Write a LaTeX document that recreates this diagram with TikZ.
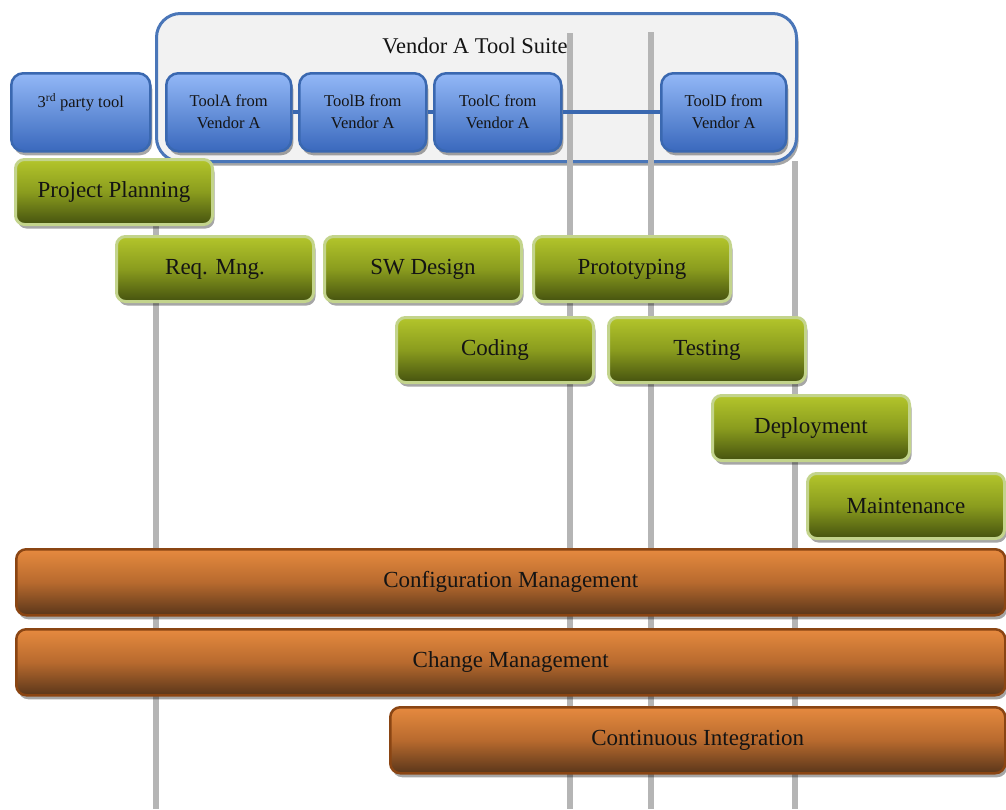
\documentclass[tikz,border=0pt]{standalone}
\usepackage{fontspec}
\setmainfont{Liberation Serif}
\usetikzlibrary{shadows}

\definecolor{suitefill}{HTML}{F2F2F2}
\definecolor{suiteline}{HTML}{4A76B8}
\definecolor{tooltop}{HTML}{93B8F7}
\definecolor{toolbot}{HTML}{3A69BD}
\definecolor{toolline}{HTML}{3A68B0}
\definecolor{greentop}{HTML}{B3C52B}
\definecolor{greenmid}{HTML}{8A9C1E}
\definecolor{greenbot}{HTML}{45520F}
\definecolor{greenline}{HTML}{C3D48C}
\definecolor{orangetop}{HTML}{E68A3F}
\definecolor{orangemid}{HTML}{B86A2E}
\definecolor{orangebot}{HTML}{5A361A}
\definecolor{orangeline}{HTML}{8A4513}
\definecolor{railgray}{HTML}{B5B5B5}
\definecolor{labeltext}{HTML}{141414}

\tikzset{
  every node/.style={text=labeltext, inner sep=0pt, anchor=north west},
  boxshadow/.style={drop shadow={shadow xshift=2pt, shadow yshift=-4pt, opacity=0.35, fill=black}},
  suitebox/.style={draw=suiteline, line width=3pt, fill=suitefill, rounded corners=24pt,
    boxshadow},
  toolbox/.style={draw=toolline, line width=2.5pt, rounded corners=12pt,
    top color=tooltop, bottom color=toolbot, boxshadow, align=center,
    font=\fontsize{16.5}{22}\selectfont, minimum height=78pt},
  toollink/.style={draw=toolline, line width=4pt},
  phasebox/.style={draw=greenline, line width=3pt, rounded corners=9pt,
    top color=greentop, bottom color=greenbot, middle color=greenmid, boxshadow,
    font=\fontsize{23}{26}\selectfont, minimum width=197pt, minimum height=65pt},
  spanbox/.style={draw=orangeline, line width=2.5pt, rounded corners=10pt,
    top color=orangetop, bottom color=orangebot, middle color=orangemid, boxshadow,
    font=\fontsize{23}{26}\selectfont, minimum height=66pt},
  rail/.style={draw=railgray, line width=6pt},
}

\begin{document}
\begin{tikzpicture}[x=1pt, y=-1pt]
\useasboundingbox (0,0) rectangle (1006,809);

% vendor suite frame
\node[suitebox, minimum width=640pt, minimum height=148pt] (suite) at (155,12) {};
\node[font=\fontsize{22.5}{26}\selectfont, anchor=center] (suitetitle) at (475,46) {Vendor A Tool Suite};

% vertical time rails
\draw[rail] (156,160) -- (156,809);
\draw[rail] (570,33) -- (570,809);
\draw[rail] (651,32) -- (651,809);
\draw[rail] (795,161) -- (795,809);

% tools
\node[toolbox, minimum width=139pt] (third) at (10,72) {3\textsuperscript{rd} party tool\\[2pt]};
\node[toolbox, minimum width=125pt] (toolA) at (165,72) {ToolA from\\Vendor A};
\node[toolbox, minimum width=127pt] (toolB) at (298,72) {ToolB from\\Vendor A};
\node[toolbox, minimum width=127pt] (toolC) at (433,72) {ToolC from\\Vendor A};
\node[toolbox, minimum width=125pt] (toolD) at (660,72) {ToolD from\\Vendor A};

\draw[toollink] (toolA.east) -- (toolB.west);
\draw[toollink] (toolB.east) -- (toolC.west);
\draw[toollink] (toolC.east) -- (toolD.west);

% lifecycle phases
\node[phasebox] (plan) at (14,158) {Project Planning};
\node[phasebox] (req) at (115,235) {Req. Mng.};
\node[phasebox] (swd) at (323,235) {SW Design};
\node[phasebox] (proto) at (532,235) {Prototyping};
\node[phasebox] (coding) at (395,316) {Coding};
\node[phasebox] (testing) at (607,316) {Testing};
\node[phasebox] (deploy) at (711,394) {Deployment};
\node[phasebox] (maint) at (806,472) {Maintenance};

% cross-cutting activities
\node[spanbox, minimum width=989pt] (cm) at (15,548) {Configuration Management};
\node[spanbox, minimum width=989pt] (chg) at (15,628) {Change Management};
\node[spanbox, minimum width=615pt] (ci) at (389,706) {Continuous Integration};
\end{tikzpicture}
\end{document}
